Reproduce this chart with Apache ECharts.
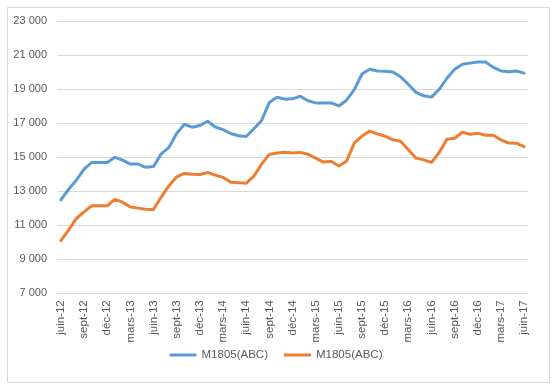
<!DOCTYPE html>
<html>
<head>
<meta charset="utf-8">
<script src="https://cdn.jsdelivr.net/npm/echarts@6/dist/echarts.min.js"></script>
<style>
html,body{margin:0;padding:0;background:#fff;}
#chart{width:552px;height:387px;}
</style>
</head>
<body>
<div id="chart"></div>
<script>
const monthNames = ['janv','févr','mars','avr','mai','juin','juil','août','sept','oct','nov','déc'];
const categories = [];
for (let y = 12; y <= 17; y++) {
  for (let m = 0; m < 12; m++) {
    if (y === 12 && m < 5) continue;
    if (y === 17 && m > 5) continue;
    categories.push(monthNames[m] + '-' + y);
  }
}

const seriesBlue = [12490,13120,13650,14300,14700,14700,14700,15000,14830,14600,14600,14410,14460,15200,15590,16400,
  16940,16770,16870,17120,16780,16630,16400,16270,16220,16680,17170,18230,18530,18420,18440,
  18590,18330,18200,18200,18200,18020,18360,18980,19900,20180,20080,20060,20020,19740,19290,18820,
  18620,18540,19000,19650,20180,20480,20540,20600,20600,20290,20080,20030,20080,19950];
const seriesOrange = [10100,10720,11400,11790,12150,12150,12150,12530,12360,12080,12010,11950,11930,12660,13330,13850,
  14050,14000,13990,14110,13950,13820,13530,13510,13470,13890,14600,15170,15250,15300,15250,
  15290,15180,14950,14720,14770,14490,14770,15830,16250,16540,16380,16240,16030,15950,15450,14950,
  14850,14700,15280,16060,16120,16470,16360,16420,16300,16300,16020,15840,15830,15630];
const legendNames = ['M1805(ABC)', 'M1805(ABC)'];
const yTicks = { min: 7000, max: 23000, interval: 2000 };

const chart = echarts.init(document.getElementById('chart'), null, {renderer: 'canvas'});
const font = 'Liberation Sans';
chart.setOption({
  animation: false,
  backgroundColor: '#ffffff',
  graphic: [{
    type: 'rect', left: 5, top: 5, z: -1,
    shape: {width: 542, height: 375},
    style: {fill: 'none', stroke: '#d9d9d9', lineWidth: 1}
  }],
  grid: {left: 57, right: 24, top: 21.3, bottom: 93.7, containLabel: false, outerBoundsMode: 'none'},
  legend: {
    bottom: 21, left: 'center',
    itemWidth: 27, itemHeight: 10, itemGap: 16,
    textStyle: {fontFamily: font, fontSize: 11.5, color: '#595959'},
    data: [
      {name: 'blue', icon: 'path://M0,4 L27,4 L27,7 L0,7 Z', itemStyle: {color: '#5B9BD5'}},
      {name: 'orange', icon: 'path://M0,4 L27,4 L27,7 L0,7 Z', itemStyle: {color: '#ED7D31'}}
    ],
    formatter: function(n){ return n === 'blue' ? legendNames[0] : legendNames[1]; }
  },
  xAxis: {
    type: 'category',
    data: categories,
    boundaryGap: true,
    axisLine: {lineStyle: {color: '#d9d9d9', width: 1}},
    axisTick: {interval: 2, length: 5, lineStyle: {color: '#d9d9d9'}},
    axisLabel: {interval: 2, rotate: 90, margin: 7, fontFamily: font, fontSize: 11.5, color: '#595959'},
    splitLine: {show: false}
  },
  yAxis: {
    type: 'value',
    min: yTicks.min, max: yTicks.max, interval: yTicks.interval,
    axisLine: {show: false},
    axisTick: {show: false},
    axisLabel: {
      margin: 10, fontFamily: font, fontSize: 11, color: '#595959',
      formatter: function(v){ return String(v).replace(/\B(?=(\d{3})+(?!\d))/g, ' '); }
    },
    splitLine: {lineStyle: {color: '#d9d9d9', width: 1}}
  },
  series: [
    {name: 'blue', type: 'line', data: seriesBlue, symbol: 'none', smooth: false,
     lineStyle: {color: '#5B9BD5', width: 3, join: 'round', cap: 'round'}, itemStyle: {color: '#5B9BD5'}},
    {name: 'orange', type: 'line', data: seriesOrange, symbol: 'none', smooth: false,
     lineStyle: {color: '#ED7D31', width: 3, join: 'round', cap: 'round'}, itemStyle: {color: '#ED7D31'}}
  ]
});
</script>
</body>
</html>
